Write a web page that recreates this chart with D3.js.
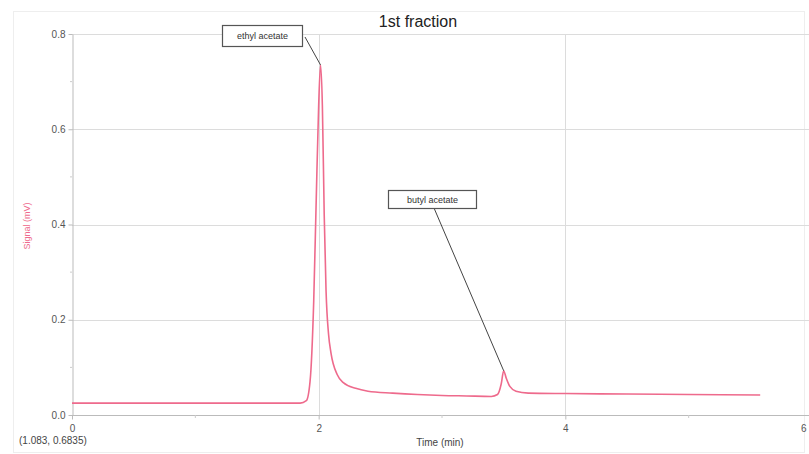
<!DOCTYPE html>
<html><head><meta charset="utf-8">
<script src="https://cdn.jsdelivr.net/npm/d3@7"></script>
<style>body{margin:0;background:#fff;}svg{display:block;font-family:"Liberation Sans",Arial,sans-serif;}</style>
</head><body><svg id="c" width="809" height="454"></svg>
<script>
const time =   [0,0.5,1.0,1.5,1.85,1.9,1.93,1.96,1.98,2.0,2.015,2.03,2.045,2.06,2.08,2.1,2.15,2.2,2.3,2.4,2.6,2.8,3.0,3.2,3.4,3.45,3.48,3.5,3.52,3.55,3.6,3.7,4.0,4.5,5.0,5.58];
const signal = [0.025,0.025,0.025,0.025,0.025,0.03,0.07,0.24,0.45,0.65,0.735,0.65,0.42,0.26,0.17,0.13,0.085,0.068,0.056,0.05,0.046,0.043,0.041,0.04,0.039,0.043,0.065,0.093,0.078,0.06,0.05,0.046,0.045,0.044,0.043,0.042];
const xTicks = [0,2,4,6];
const xMinor = [1,3,5];
const yTicks = [0.0,0.2,0.4,0.6,0.8];
const yMinor = [0.1,0.3,0.5,0.7];
const annotations = [
  {label:"ethyl acetate", t:2.015, v:0.735},
  {label:"butyl acetate", t:3.5, v:0.093}
];
const annoBoxes = [
  {x:222,y:25,w:80,h:21,ax:305,ay:37},
  {x:388,y:190,w:88,h:18,ax:434,ay:208}
];

const svg = d3.select("#c");
const x = d3.scaleLinear().domain([0,6]).range([72,812]);
const y = d3.scaleLinear().domain([0,0.8]).range([415,34]);

svg.append("rect").attr("x",13.5).attr("y",11.5).attr("width",791).attr("height",441).attr("fill","none").attr("stroke","#eeeeee");

svg.append("g").selectAll("line").data(yTicks.filter(d=>d>0)).join("line")
  .attr("x1",72).attr("x2",809).attr("y1",d=>Math.round(y(d))+0.5).attr("y2",d=>Math.round(y(d))+0.5)
  .attr("stroke","#dcdcdc");
svg.append("g").selectAll("line").data(xTicks.filter(d=>d>0)).join("line")
  .attr("x1",d=>Math.round(x(d))+0.5).attr("x2",d=>Math.round(x(d))+0.5).attr("y1",34).attr("y2",415)
  .attr("stroke","#dcdcdc");

const xAxis = svg.append("g").attr("transform","translate(0,415.5)")
  .call(d3.axisBottom(x).tickValues(xTicks).tickFormat(d3.format("d")).tickSize(4).tickSizeOuter(0));
const yAxis = svg.append("g").attr("transform","translate(72.5,0)")
  .call(d3.axisLeft(y).tickValues(yTicks).tickFormat(d3.format(".1f")).tickSize(4).tickSizeOuter(0));
[xAxis,yAxis].forEach(a=>{
  a.select(".domain").attr("stroke","#bbbbbb");
  a.selectAll(".tick line").attr("stroke","#bbbbbb");
  a.selectAll(".tick text").attr("fill","#555").attr("font-size","10px");
});
xAxis.select(".domain").attr("d","M72,0H809");
xAxis.selectAll(".tick text").attr("dy","0.9em");
xAxis.selectAll(".tick").filter(d=>d===6).select("text").attr("text-anchor","end").attr("dx","-6");
svg.append("g").selectAll("line").data(xMinor).join("line")
  .attr("x1",d=>x(d)).attr("x2",d=>x(d)).attr("y1",415).attr("y2",418).attr("stroke","#cccccc");
svg.append("g").selectAll("line").data(yMinor).join("line")
  .attr("x1",70).attr("x2",72).attr("y1",d=>y(d)).attr("y2",d=>y(d)).attr("stroke","#cccccc");

const pts = time.map((t,i)=>[t,signal[i]]);
svg.append("path").datum(pts)
  .attr("d",d3.line().x(d=>x(d[0])).y(d=>y(d[1])).curve(d3.curveMonotoneX))
  .attr("fill","none").attr("stroke","#ee6a8c").attr("stroke-width",1.6);

annotations.forEach((a,i)=>{
  const b = annoBoxes[i];
  svg.append("line").attr("x1",b.ax).attr("y1",b.ay).attr("x2",x(a.t)).attr("y2",y(a.v))
    .attr("stroke","#444").attr("stroke-width",1);
  svg.append("rect").attr("x",b.x+0.5).attr("y",b.y+0.5).attr("width",b.w).attr("height",b.h)
    .attr("fill","#fff").attr("stroke","#555").attr("stroke-width",1.2);
  svg.append("text").attr("x",b.x+b.w/2+0.5).attr("y",b.y+b.h/2+3.5).attr("text-anchor","middle")
    .attr("font-size","9px").attr("fill","#333").text(a.label);
});

svg.append("text").attr("x",418).attr("y",27).attr("text-anchor","middle").attr("font-size","16px").attr("fill","#222").text("1st fraction");
svg.append("text").attr("transform","translate(30,226) rotate(-90)").attr("text-anchor","middle")
  .attr("font-size","9px").attr("fill","#ee6a8c").text("Signal (mV)");
svg.append("text").attr("x",440).attr("y",446).attr("text-anchor","middle").attr("font-size","10px").attr("fill","#444").text("Time (min)");
svg.append("text").attr("x",19).attr("y",444).attr("font-size","10px").attr("fill","#444").text("(1.083, 0.6835)");
</script></body></html>
